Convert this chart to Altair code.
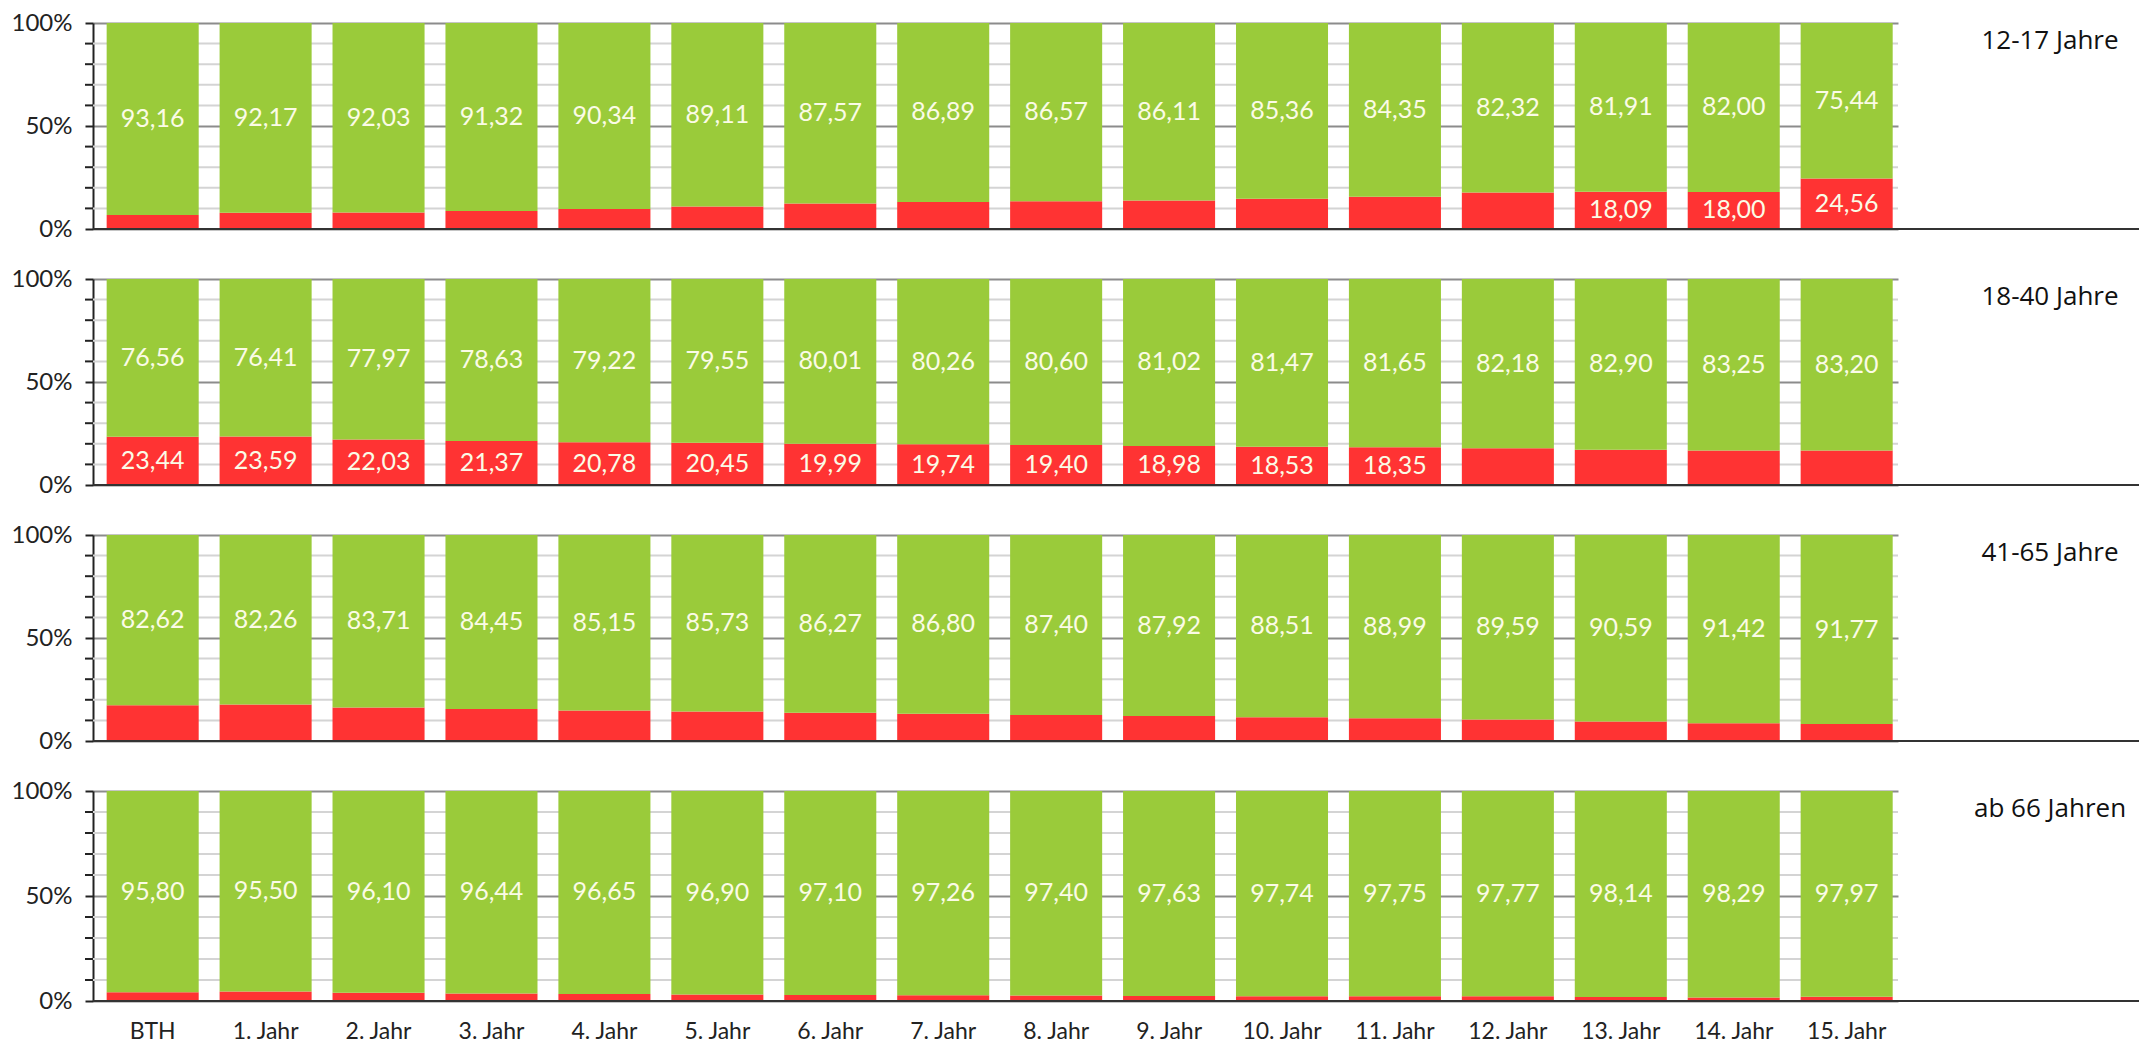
import altair as alt
import pandas as pd

categories = ["BTH", "1. Jahr", "2. Jahr", "3. Jahr", "4. Jahr", "5. Jahr", "6. Jahr",
              "7. Jahr", "8. Jahr", "9. Jahr", "10. Jahr", "11. Jahr", "12. Jahr",
              "13. Jahr", "14. Jahr", "15. Jahr"]

groups = ["12-17 Jahre", "18-40 Jahre", "41-65 Jahre", "ab 66 Jahren"]

green_12_17 = [93.16, 92.17, 92.03, 91.32, 90.34, 89.11, 87.57, 86.89, 86.57, 86.11,
               85.36, 84.35, 82.32, 81.91, 82.00, 75.44]
green_18_40 = [76.56, 76.41, 77.97, 78.63, 79.22, 79.55, 80.01, 80.26, 80.60, 81.02,
               81.47, 81.65, 82.18, 82.90, 83.25, 83.20]
green_41_65 = [82.62, 82.26, 83.71, 84.45, 85.15, 85.73, 86.27, 86.80, 87.40, 87.92,
               88.51, 88.99, 89.59, 90.59, 91.42, 91.77]
green_66 = [95.80, 95.50, 96.10, 96.44, 96.65, 96.90, 97.10, 97.26, 97.40, 97.63,
            97.74, 97.75, 97.77, 98.14, 98.29, 97.97]

series = [green_12_17, green_18_40, green_41_65, green_66]
heights = [206, 206, 206, 210]
major_ticks = [0, 50, 100]
minor_ticks = [10, 20, 30, 40, 60, 70, 80, 90]

GREEN = "#9acb3a"
RED = "#ff3333"
PLOT_W = 1805


def fmt(v):
    return f"{v:.2f}".replace(".", ",")


def panel(green, title, height, show_x):
    rows = []
    for c, g in zip(categories, green):
        r = round(100 - g, 2)
        rows.append(dict(cat=c, seg="red", lo=0, hi=r, mid=r / 2, label=fmt(r), show=r >= 18))
        rows.append(dict(cat=c, seg="green", lo=r, hi=100, mid=(r + 100) / 2, label=fmt(g), show=True))
    df = pd.DataFrame(rows)
    minor_df = pd.DataFrame({"v": minor_ticks})

    if show_x:
        xaxis = alt.Axis(title=None, labelFont="Lato", labelFontSize=23, labelColor="#222",
                         ticks=False, domain=False, labelPadding=19, labelAngle=0)
    else:
        xaxis = None
    xenc = alt.X("cat:N", sort=categories,
                 scale=alt.Scale(paddingInner=0.185, paddingOuter=0.084, align=0.72),
                 axis=xaxis)
    yscale = alt.Scale(domain=[0, 100], nice=False)
    yaxis = alt.Axis(title=None, values=major_ticks,
                     labelExpr="datum.value + '%'",
                     labelFont="Lato", labelFontSize=24, labelColor="#222", labelPadding=13,
                     labelOverlap=False, tickSize=8, tickColor="#222", tickWidth=2,
                     domainColor="#222", domainWidth=2, grid=True,
                     gridColor="#8c8c8c", gridWidth=2)

    minor_grid = alt.Chart(minor_df).mark_rule(color="#d4d4d4", strokeWidth=2).encode(
        y=alt.Y("v:Q", scale=yscale, axis=yaxis),
        x=alt.value(0), x2=alt.value(PLOT_W),
    )
    minor_tick = alt.Chart(minor_df).mark_rule(color="#222", strokeWidth=2).encode(
        y=alt.Y("v:Q", scale=yscale, axis=yaxis),
        x=alt.value(-8), x2=alt.value(0),
    )
    base = alt.Chart(df)
    bars = base.mark_bar().encode(
        x=xenc,
        y=alt.Y("lo:Q", scale=yscale, axis=yaxis),
        y2="hi:Q",
        color=alt.Color("seg:N", scale=alt.Scale(domain=["green", "red"], range=[GREEN, RED]),
                        legend=None),
    )
    text = base.transform_filter("datum.show").mark_text(
        font="Lato", fontSize=25, color="#fbfbe6", baseline="middle"
    ).encode(x=xenc, y=alt.Y("mid:Q", scale=yscale, axis=yaxis), text="label:N")
    baseline = alt.Chart(pd.DataFrame({"v": [0]})).mark_rule(
        color="#333", strokeWidth=2
    ).encode(x=alt.value(0), x2=alt.value(2046), y=alt.value(height))
    ttl = alt.Chart(pd.DataFrame({"t": [title]})).mark_text(
        font="Open Sans", fontSize=26, align="center", baseline="middle", color="#111"
    ).encode(x=alt.value(1957), y=alt.value(18), text="t:N")
    return alt.layer(minor_grid, minor_tick, bars, text, baseline, ttl).properties(
        width=PLOT_W, height=height)


panels = [panel(series[i], groups[i], heights[i], i == 3) for i in range(4)]

chart = alt.vconcat(*panels, spacing=26).properties(
    padding={"left": 3, "top": 3, "right": 0, "bottom": 0}
).configure_view(stroke=None)

chart.save("out.html", embed_options={"renderer": "svg", "actions": False})
